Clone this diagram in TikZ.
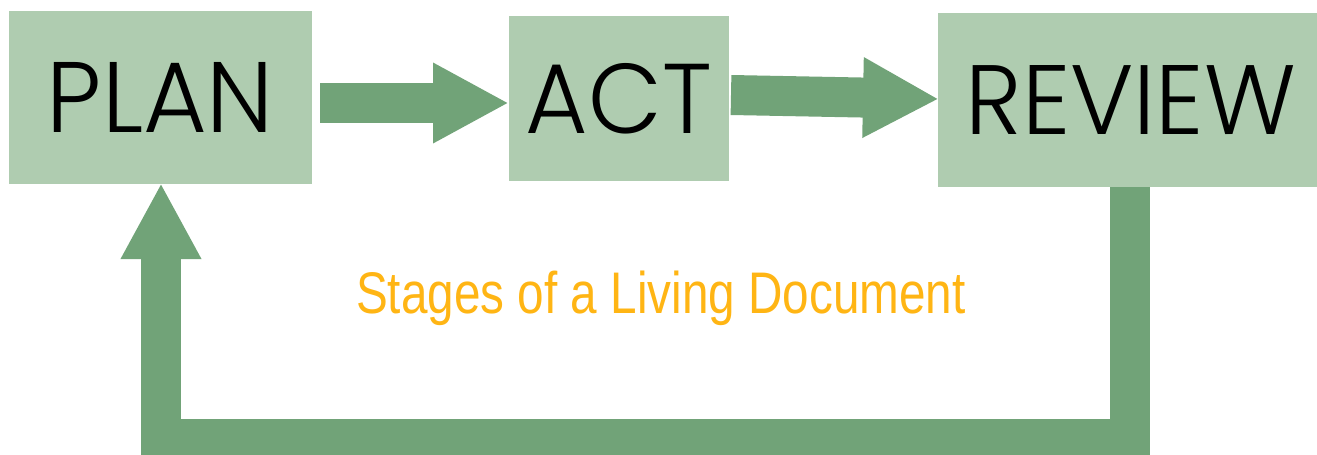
\documentclass[tikz,border=0pt]{standalone}
\usepackage{fontspec}
\setmainfont{Liberation Sans}
\newfontfamily\boxfont{Poppins Light}
\usetikzlibrary{arrows.meta}
\definecolor{boxgreen}{RGB}{175,204,176}
\definecolor{arrowgreen}{RGB}{113,163,120}
\definecolor{captionorange}{RGB}{255,181,20}
\tikzset{
  stagebox/.style={fill=boxgreen, draw=none, inner sep=0pt, outer sep=0pt, text=black},
  blockarrow/.style={draw=arrowgreen, line width=40pt, line cap=butt, line join=miter,
    -{Triangle[length=76pt,width=75pt]}},
}
\newcommand{\stagetext}[2]{\raisebox{-3.5pt}{\resizebox{#1}{70pt}{\boxfont #2}}}
\begin{document}
\begin{tikzpicture}[x=1pt,y=-1pt]
\useasboundingbox (0,0) rectangle (1317,455);
\clip (0,0) rectangle (1317,455);
\node[stagebox, minimum width=303pt, minimum height=173pt] (plan) at (160.5,97.5) {\stagetext{227pt}{PLAN}};
\node[stagebox, minimum width=220pt, minimum height=165pt] (act) at (619,98.5) {\stagetext{186pt}{ACT}};
\node[stagebox, minimum width=379pt, minimum height=174pt] (review) at (1127.5,100) {\raisebox{-3.5pt}{\hspace{7pt}\resizebox{330pt}{69pt}{\boxfont REVIEW}}};
\node[anchor=base west, inner sep=0pt, text=captionorange] (caption) at (356,313)
  {\fontsize{58.7}{60}\selectfont\scalebox{0.812}[1]{Stages of a Living Document}};
% connectors
\draw[blockarrow] ([xshift=8pt,yshift=-5.5pt]plan.east) -- ([yshift=-4.5pt]act.west);
\draw[blockarrow] ([xshift=2pt,yshift=3.5pt]act.east) -- ([xshift=1pt,yshift=1pt]review.west);
\coordinate (loopA) at ([xshift=2pt]review.south);
\coordinate (loopB) at (1129.5,439);
\coordinate (loopC) at (161,439);
\draw[blockarrow] (loopA) -- (loopB) -- (loopC) -- ([xshift=0.5pt,yshift=1pt]plan.south);
\end{tikzpicture}
\end{document}
